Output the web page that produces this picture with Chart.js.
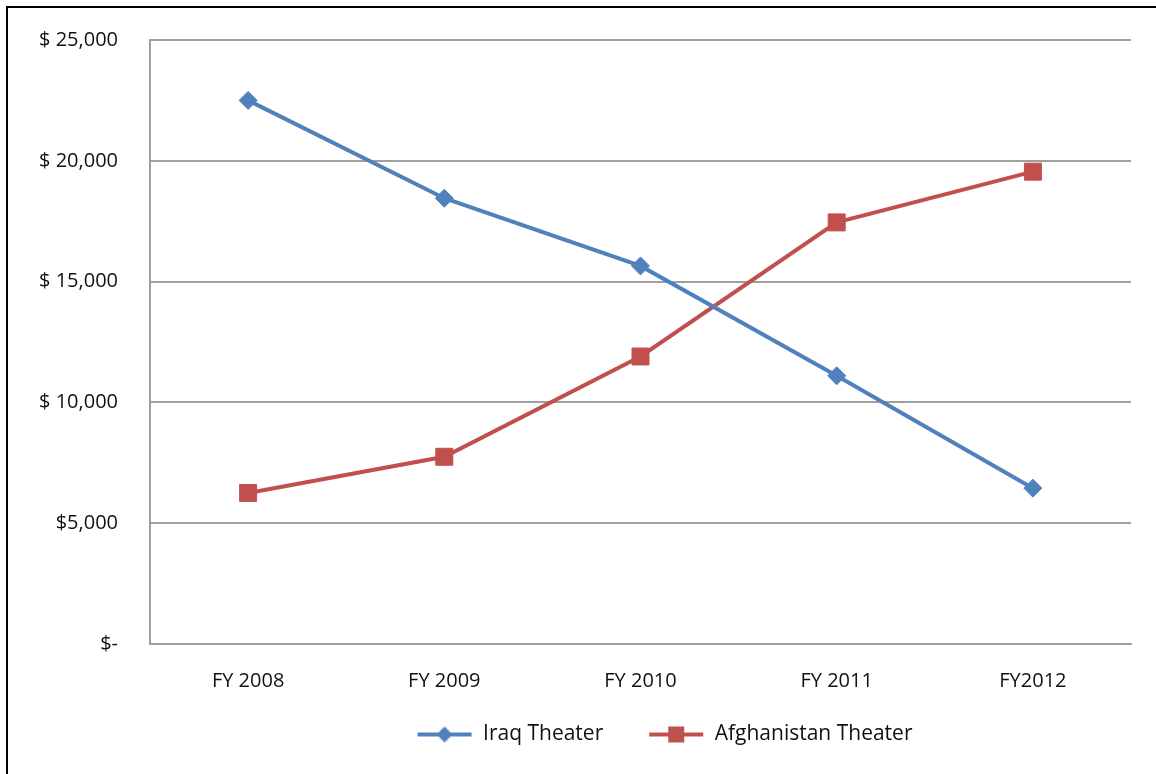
<!DOCTYPE html>
<html>
<head>
<meta charset="utf-8">
<script src="https://cdn.jsdelivr.net/npm/chart.js@4.4.1/dist/chart.umd.min.js"></script>
<style>
  html, body { margin: 0; padding: 0; background: #fff; }
  #wrap { position: relative; width: 1156px; height: 774px; overflow: hidden; }
  #frame { position: absolute; left: 6px; top: 6px; right: -10px; bottom: -10px;
           border-left: 2px solid #000; border-top: 2px solid #000; pointer-events: none; }
  canvas { position: absolute; left: 0; top: 0; }
</style>
</head>
<body>
<div id="wrap">
  <canvas id="canvas" width="1156" height="774"></canvas>
  <div id="frame"></div>
</div>
<script>
/* global Chart */

const years = ["FY 2008", "FY 2009", "FY 2010", "FY 2011", "FY2012"];
const iraq = [22500, 18450, 15650, 11100, 6450];
const afghanistan = [6250, 7750, 11900, 17450, 19550];
const yTickLabels = ["$-", "$5,000", "$ 10,000", "$ 15,000", "$ 20,000", "$ 25,000"];

const BLUE = "#4F81BD";
const RED = "#C0504D";
const FONT = "'Open Sans', 'Liberation Sans', sans-serif";

// legend symbol: a short line with the marker in the middle
function legendSymbol(color, shape) {
  const c = document.createElement("canvas");
  c.width = 56;
  c.height = 18;
  const g = c.getContext("2d");
  g.strokeStyle = color;
  g.lineWidth = 4;
  g.beginPath();
  g.moveTo(1, 9);
  g.lineTo(55, 9);
  g.stroke();
  g.fillStyle = color;
  if (shape === "diamond") {
    g.beginPath();
    g.moveTo(28, 1);
    g.lineTo(36, 9);
    g.lineTo(28, 17);
    g.lineTo(20, 9);
    g.closePath();
    g.fill();
  } else {
    g.fillRect(20, 1, 16, 16);
  }
  return c;
}

// nudge the legend so it sits where the original has it
const legendShift = {
  id: "legendShift",
  afterLayout(chart, args, opts) {
    const lg = chart.legend;
    if (!lg) return;
    lg.left += opts.dx;
    lg.right += opts.dx;
    lg.top += opts.dy;
    lg.bottom += opts.dy;
  }
};

const ctx = document.getElementById("canvas").getContext("2d");

new Chart(ctx, {
  type: "line",
  data: {
    labels: years,
    datasets: [
      {
        label: "Iraq Theater",
        data: iraq,
        borderColor: BLUE,
        backgroundColor: BLUE,
        borderWidth: 4,
        pointStyle: "rectRot",
        pointRadius: 9,
        pointBorderWidth: 1,
        tension: 0,
        symbol: legendSymbol(BLUE, "diamond")
      },
      {
        label: "Afghanistan Theater",
        data: afghanistan,
        borderColor: RED,
        backgroundColor: RED,
        borderWidth: 4,
        pointStyle: "rect",
        pointRadius: 12,
        pointBorderWidth: 1,
        tension: 0,
        symbol: legendSymbol(RED, "square")
      }
    ]
  },
  plugins: [legendShift],
  options: {
    responsive: false,
    animation: false,
    devicePixelRatio: 1,
    layout: { padding: { left: 0, right: 25, top: 40, bottom: 0 } },
    scales: {
      x: {
        offset: true,
        grid: { display: false, drawTicks: false },
        border: { display: true, color: "#A0A0A0", width: 2 },
        ticks: { color: "#111", font: { family: FONT, size: 20 }, padding: 25, maxRotation: 0 },
        afterFit(scale) { scale.height = 60; }
      },
      y: {
        min: 0,
        max: 25000,
        grid: { color: "#A0A0A0", lineWidth: 2, drawTicks: false },
        border: { display: true, color: "#A0A0A0", width: 2 },
        ticks: {
          stepSize: 5000,
          padding: 32,
          color: "#111",
          font: { family: FONT, size: 20 },
          callback: (value, index) => yTickLabels[index]
        },
        afterFit(scale) {
          scale.width = 150;
          scale.paddingTop = 0;
          scale.paddingBottom = 0;
        }
      }
    },
    plugins: {
      tooltip: { enabled: false },
      legendShift: { dx: 99, dy: -25 },
      legend: {
        position: "bottom",
        maxHeight: 70,
        labels: {
          usePointStyle: true,
          pointStyleWidth: 56,
          padding: 45,
          color: "#111",
          font: { family: FONT, size: 21 },
          generateLabels(chart) {
            return chart.data.datasets.map((ds, i) => ({
              text: ds.label,
              pointStyle: ds.symbol,
              fillStyle: ds.borderColor,
              strokeStyle: ds.borderColor,
              lineWidth: 0,
              fontColor: "#111",
              hidden: false,
              datasetIndex: i
            }));
          }
        }
      }
    }
  }
});
</script>
</body>
</html>
